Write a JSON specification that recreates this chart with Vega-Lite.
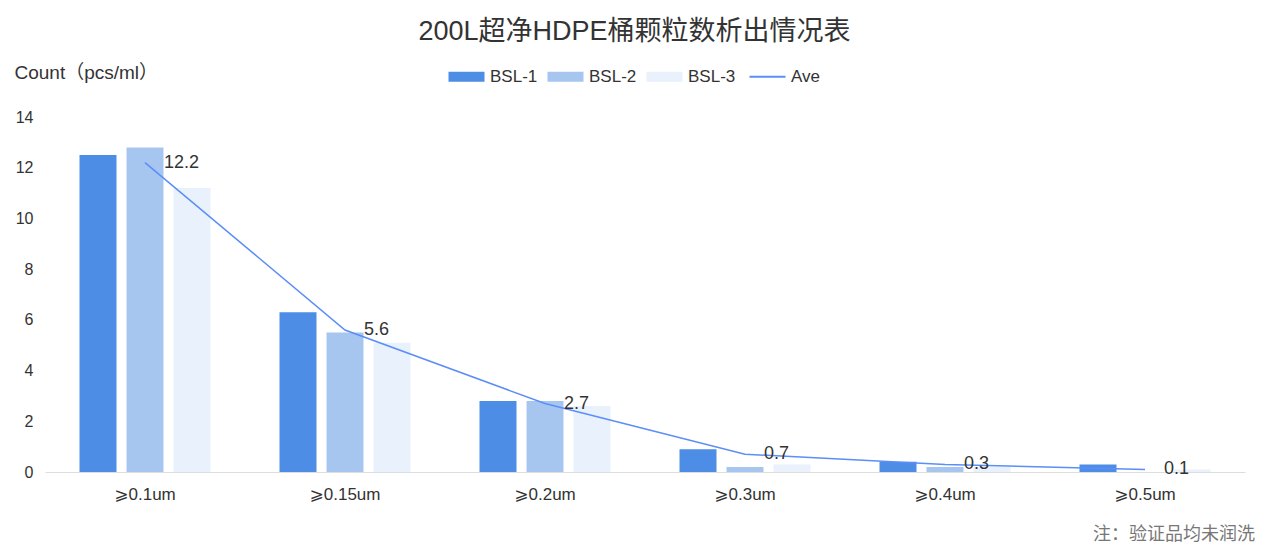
{
  "$schema": "https://vega.github.io/schema/vega-lite/v6.json",
  "autosize": "none",
  "width": 1200,
  "height": 355,
  "padding": {"left": 45, "top": 117, "right": 22, "bottom": 87},
  "background": "white",
  "title": {
    "text": "200L超净HDPE桶颗粒数析出情况表",
    "anchor": "middle",
    "frame": "bounds",
    "font": "Liberation Sans, Noto Sans CJK SC",
    "fontSize": 27,
    "fontWeight": "normal",
    "color": "#333333",
    "offset": 0,
    "dy": -17
  },
  "datasets": {
    "bars": [
      {"size": "⩾0.1um", "series": "BSL-1", "count": 12.5},
      {"size": "⩾0.1um", "series": "BSL-2", "count": 12.8},
      {"size": "⩾0.1um", "series": "BSL-3", "count": 11.2},
      {"size": "⩾0.15um", "series": "BSL-1", "count": 6.3},
      {"size": "⩾0.15um", "series": "BSL-2", "count": 5.5},
      {"size": "⩾0.15um", "series": "BSL-3", "count": 5.1},
      {"size": "⩾0.2um", "series": "BSL-1", "count": 2.8},
      {"size": "⩾0.2um", "series": "BSL-2", "count": 2.8},
      {"size": "⩾0.2um", "series": "BSL-3", "count": 2.6},
      {"size": "⩾0.3um", "series": "BSL-1", "count": 0.9},
      {"size": "⩾0.3um", "series": "BSL-2", "count": 0.2},
      {"size": "⩾0.3um", "series": "BSL-3", "count": 0.3},
      {"size": "⩾0.4um", "series": "BSL-1", "count": 0.4},
      {"size": "⩾0.4um", "series": "BSL-2", "count": 0.2},
      {"size": "⩾0.4um", "series": "BSL-3", "count": 0.2},
      {"size": "⩾0.5um", "series": "BSL-1", "count": 0.3},
      {"size": "⩾0.5um", "series": "BSL-2", "count": 0.0},
      {"size": "⩾0.5um", "series": "BSL-3", "count": 0.1}
    ],
    "ave": [
      {"size": "⩾0.1um", "series": "Ave", "count": 12.2},
      {"size": "⩾0.15um", "series": "Ave", "count": 5.6},
      {"size": "⩾0.2um", "series": "Ave", "count": 2.7},
      {"size": "⩾0.3um", "series": "Ave", "count": 0.7},
      {"size": "⩾0.4um", "series": "Ave", "count": 0.3},
      {"size": "⩾0.5um", "series": "Ave", "count": 0.1}
    ],
    "note": [
      {"text": "注：验证品均未润洗"}
    ]
  },
  "config": {
    "view": {"stroke": null},
    "font": "Liberation Sans, Noto Sans CJK SC",
    "axis": {"labelFont": "Liberation Sans, DejaVu Sans", "labelColor": "#333333", "labelFontSize": 16}
  },
  "encoding": {
    "x": {
      "field": "size",
      "type": "nominal",
      "sort": null,
      "title": null,
      "scale": {"paddingInner": 0, "paddingOuter": 0},
      "axis": {
        "labelAngle": 0,
        "domain": true,
        "domainColor": "#dddddd",
        "ticks": false,
        "labelPadding": 14,
        "labelFontSize": 17
      }
    },
    "y": {
      "field": "count",
      "type": "quantitative",
      "scale": {"domain": [0, 14], "nice": false},
      "axis": {
        "title": "Count（pcs/ml）",
        "titleAngle": 0,
        "titleAlign": "left",
        "titleBaseline": "middle",
        "titleX": -31,
        "titleY": -45,
        "titleFontSize": 19,
        "titleFontWeight": "normal",
        "titleColor": "#333333",
        "values": [0, 2, 4, 6, 8, 10, 12, 14],
        "grid": false,
        "domain": false,
        "ticks": false,
        "labelPadding": 12,
        "labelFontSize": 16
      }
    }
  },
  "layer": [
    {
      "data": {"name": "bars"},
      "mark": {"type": "bar"},
      "encoding": {
        "xOffset": {
          "field": "series",
          "type": "nominal",
          "scale": {"paddingInner": 0.213, "paddingOuter": 0.734}
        },
        "color": {
          "field": "series",
          "type": "nominal",
          "scale": {
            "domain": ["BSL-1", "BSL-2", "BSL-3", "Ave"],
            "range": ["#4e8de5", "#a6c6f0", "#e9f1fc", "#5b8ef7"]
          },
          "legend": {
            "orient": "none",
            "direction": "horizontal",
            "legendX": 413,
            "legendY": -49,
            "title": null,
            "labelFontSize": 17,
            "labelColor": "#333333",
            "labelFont": "Liberation Sans",
            "columnPadding": 9,
            "symbolSize": 1296,
            "labelOffset": 15,
            "encode": {
              "symbols": {
                "update": {
                  "shape": {"signal": "datum.value === 'Ave' ? 'stroke' : 'M-1,-0.28H1V0.28H-1Z'"},
                  "fill": {"scale": "color", "field": "value"},
                  "stroke": {"scale": "color", "field": "value"},
                  "strokeWidth": {"signal": "datum.value === 'Ave' ? 2 : 0"},
                  "opacity": {"value": 1}
                }
              }
            }
          }
        }
      }
    },
    {
      "data": {"name": "ave"},
      "mark": {"type": "line", "strokeWidth": 1.5, "color": "#5b8ef7"},
      "encoding": {
        "color": {"field": "series", "type": "nominal"}
      }
    },
    {
      "data": {"name": "ave"},
      "mark": {"type": "text", "align": "left", "baseline": "middle", "dx": 19, "fontSize": 18, "color": "#333333"},
      "encoding": {
        "text": {"field": "count", "type": "quantitative", "format": ".1f"}
      }
    },
    {
      "data": {"name": "note"},
      "mark": {"type": "text", "align": "right", "baseline": "middle", "x": "width", "y": "height", "dx": 10, "dy": 63, "fontSize": 18, "color": "#777777", "font": "Noto Sans CJK SC"},
      "encoding": {
        "text": {"field": "text", "type": "nominal"},
        "x": null,
        "y": null
      }
    }
  ]
}
